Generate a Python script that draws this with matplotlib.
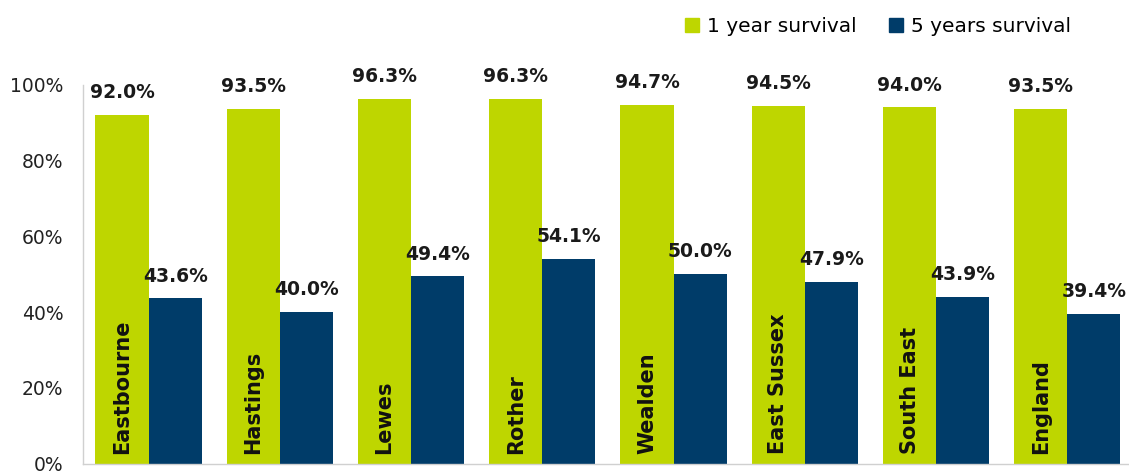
import numpy as np
import matplotlib
matplotlib.use('Agg')
import matplotlib.pyplot as plt
from matplotlib.patches import Patch

areas = ['Eastbourne', 'Hastings', 'Lewes', 'Rother', 'Wealden', 'East Sussex', 'South East', 'England']
one_year = [92.0, 93.5, 96.3, 96.3, 94.7, 94.5, 94.0, 93.5]
five_years = [43.6, 40.0, 49.4, 54.1, 50.0, 47.9, 43.9, 39.4]
yticks = [0, 20, 40, 60, 80, 100]

green = '#bed600'
blue = '#003c69'

plt.rcParams['font.family'] = ['DejaVu Sans']

fig = plt.figure(figsize=(11.29, 4.76), dpi=100)
ax = fig.add_axes([0.0735, 0.026, 0.93, 0.796])

x = np.arange(len(areas))
w = 0.405
ax.bar(x - w/2, one_year, w, color=green, label='1 year survival')
ax.bar(x + w/2, five_years, w, color=blue, label='5 years survival')

for xi, v in zip(x, one_year):
    ax.text(xi - w/2, v + 3.4, f'{v:.1f}%', ha='center', va='bottom',
            fontsize=13.5, fontweight='bold', color='#1a1a1a', clip_on=False)
for xi, v in zip(x, five_years):
    ax.text(xi + w/2, v + 3.4, f'{v:.1f}%', ha='center', va='bottom',
            fontsize=13.5, fontweight='bold', color='#1a1a1a', clip_on=False)

# category names inside the green bars
for xi, name in zip(x, areas):
    ax.text(xi - w/2, 2.5, name, rotation=90, ha='center', va='bottom',
            fontsize=15, fontweight='bold', color='#111111')

ax.set_xlim(-0.5, len(areas) - 0.5)
ax.set_ylim(0, 100)
ax.set_yticks(yticks)
ax.set_yticklabels([f'{t}%' for t in yticks], fontsize=13.5, color='#222222')
ax.tick_params(axis='y', length=0, pad=14)
ax.set_xticks([])
for s in ['top', 'right']:
    ax.spines[s].set_visible(False)
for s in ['left', 'bottom']:
    ax.spines[s].set_color('#d0d0d0')
    ax.spines[s].set_linewidth(1)

handles = [Patch(color=green, label='1 year survival'),
           Patch(color=blue, label='5 years survival')]
fig.legend(handles=handles, loc='center right', bbox_to_anchor=(0.965, 0.945),
           ncol=2, frameon=False, fontsize=14.5, handlelength=0.7, handleheight=0.7,
           handletextpad=0.4, columnspacing=1.6)

fig.savefig('out.png', dpi=100)
